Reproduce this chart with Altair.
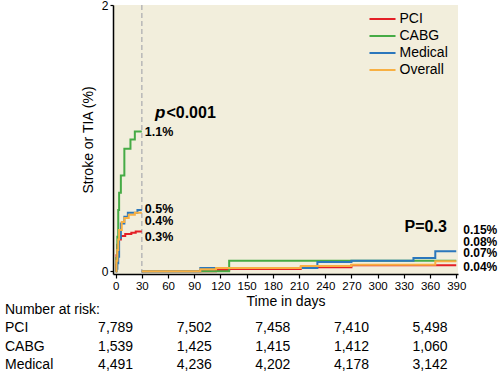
import altair as alt
import pandas as pd

FONT = "Liberation Sans, Arial, sans-serif"

groups = ["PCI", "CABG", "Medical", "Overall"]
colors = ["#e41f26", "#46ab45", "#2b77bc", "#f8b043"]

# ---- 0-30 days (cumulative %, step function) ----
pci_d1 = [0, 0.5, 1, 2, 3, 6, 11, 18, 23, 30]
pci_v1 = [0, 0.05, 0.12, 0.20, 0.24, 0.265, 0.28, 0.29, 0.30, 0.30]
cabg_d1 = [0, 1, 2, 3, 4, 6, 10, 17, 22, 30]
cabg_v1 = [0, 0.10, 0.26, 0.46, 0.59, 0.72, 0.92, 0.99, 1.05, 1.05]
med_d1 = [0, 1, 2, 3, 4, 6, 10, 14, 25, 30]
med_v1 = [0, 0.02, 0.06, 0.11, 0.25, 0.36, 0.41, 0.44, 0.46, 0.46]
all_d1 = [0, 1, 2, 3, 4, 7, 10, 15, 22, 30]
all_v1 = [0, 0.08, 0.16, 0.24, 0.31, 0.37, 0.40, 0.425, 0.44, 0.44]

# ---- 30-390 days landmark (cumulative %, step function) ----
pci_d2 = [30, 115, 130, 212, 270, 390]
pci_v2 = [0, 0.01, 0.018, 0.03, 0.045, 0.045]
cabg_d2 = [30, 130, 390]
cabg_v2 = [0, 0.08, 0.08]
med_d2 = [30, 97, 231, 270, 341, 366, 390]
med_v2 = [0, 0.025, 0.07, 0.08, 0.10, 0.15, 0.15]
all_d2 = [30, 97, 115, 212, 270, 366, 390]
all_v2 = [0, 0.015, 0.025, 0.04, 0.05, 0.075, 0.075]

# ---- annotations ----
early_labels = ["1.1%", "0.5%", "0.4%", "0.3%"]
early_label_at = [1.05, 0.47, 0.375, 0.256]
late_labels = ["0.15%", "0.08%", "0.07%", "0.04%"]
late_label_at = [0.31, 0.223, 0.136, 0.03]

# ---- numbers at risk ----
risk_days = [0, 90, 180, 270, 360]
risk_pci = ["7,789", "7,502", "7,458", "7,410", "5,498"]
risk_cabg = ["1,539", "1,425", "1,415", "1,412", "1,060"]
risk_med = ["4,491", "4,236", "4,202", "4,178", "3,142"]
risk_rows = ["Number at risk:", "PCI", "CABG", "Medical"]

xticks = list(range(0, 391, 30))

series = {
    "PCI": [(pci_d1, pci_v1), (pci_d2, pci_v2)],
    "CABG": [(cabg_d1, cabg_v1), (cabg_d2, cabg_v2)],
    "Medical": [(med_d1, med_v1), (med_d2, med_v2)],
    "Overall": [(all_d1, all_v1), (all_d2, all_v2)],
}
rows = []
for g, parts in series.items():
    for pi, (ds, vs) in enumerate(parts):
        for d, v in zip(ds, vs):
            rows.append({"group": g, "period": pi, "day": d, "value": v})
curves = pd.DataFrame(rows)

xscale = alt.Scale(domain=[-3, 392], nice=False, zero=False)
yscale = alt.Scale(domain=[-0.02, 2], nice=False, zero=False)


def X():
    return alt.X(
        "day:Q",
        scale=xscale,
        axis=alt.Axis(
            values=xticks, title="Time in days", format="d",
            tickSize=4, labelPadding=2, titlePadding=3,
            labelFontSize=11.5, titleFontSize=14, grid=False,
        ),
    )


def Y():
    return alt.Y(
        "value:Q",
        scale=yscale,
        axis=alt.Axis(
            values=[0, 1, 2], title="Stroke or TIA (%)", format="d",
            tickSize=3, labelPadding=2, titlePadding=6,
            labelFontSize=12, titleFontSize=14, grid=False,
        ),
    )


color = alt.Color(
    "group:N",
    scale=alt.Scale(domain=groups, range=colors),
    legend=alt.Legend(
        title=None, orient="none", legendX=262.5, legendY=7,
        symbolType="M-2.17,0H2.17", symbolSize=144, symbolStrokeWidth=2,
        labelFontSize=14, labelFont=FONT, labelOffset=10, padding=0,
        rowPadding=3, symbolOffset=0, labelColor="black",
    ),
)

layers = []

# dashed landmark line at day 30
layers.append(
    alt.Chart(pd.DataFrame({"day": [30]}))
    .mark_rule(color="#b8b8b8", strokeDash=[5, 3], strokeWidth=1.5)
    .encode(x=X())
)

for g in groups:
    layers.append(
        alt.Chart(curves[curves.group == g])
        .mark_line(interpolate="step-after", strokeWidth=2)
        .encode(x=X(), y=Y(), color=color, detail="period:N")
    )

early_df = pd.DataFrame({"day": [30] * 4, "value": early_label_at, "t": early_labels})
layers.append(
    alt.Chart(early_df)
    .mark_text(align="left", baseline="middle", dx=3, font=FONT, fontSize=12.5, fontWeight="bold", color="black")
    .encode(x=X(), y=Y(), text="t:N")
)
late_df = pd.DataFrame({"day": [390] * 4, "value": late_label_at, "t": late_labels})
layers.append(
    alt.Chart(late_df)
    .mark_text(align="left", baseline="middle", dx=7, font=FONT, fontSize=12, fontWeight="bold", color="black")
    .encode(x=X(), y=Y(), text="t:N")
)

p_df = pd.DataFrame({"day": [57], "value": [1.19], "t": ["p"]})
layers.append(
    alt.Chart(p_df)
    .mark_text(align="right", baseline="middle", font=FONT, fontSize=17, fontWeight="bold", fontStyle="italic", color="black")
    .encode(x=X(), y=Y(), text="t:N")
)
p2_df = pd.DataFrame({"day": [57], "value": [1.19], "t": ["<0.001"]})
layers.append(
    alt.Chart(p2_df)
    .mark_text(align="left", baseline="middle", dx=1, font=FONT, fontSize=16, fontWeight="bold", color="black")
    .encode(x=X(), y=Y(), text="t:N")
)
P_df = pd.DataFrame({"day": [355], "value": [0.33], "t": ["P=0.3"]})
layers.append(
    alt.Chart(P_df)
    .mark_text(align="center", baseline="middle", font=FONT, fontSize=16, fontWeight="bold", color="black")
    .encode(x=X(), y=Y(), text="t:N")
)

main = alt.layer(*layers)

# numbers-at-risk table
risk_rows_data = []
for name, vals in [("PCI", risk_pci), ("CABG", risk_cabg), ("Medical", risk_med)]:
    for d, v in zip(risk_days, vals):
        risk_rows_data.append({"row": name, "day": d, "t": v})
risk_df = pd.DataFrame(risk_rows_data)
rowY = alt.Y("row:N", scale=alt.Scale(domain=risk_rows, range=[305, 360], padding=0), axis=None)

nums = (
    alt.Chart(risk_df)
    .mark_text(align="center", baseline="middle", font=FONT, fontSize=14, color="black")
    .encode(x=X(), y=rowY, text="t:N")
)
names = (
    alt.Chart(pd.DataFrame({"row": risk_rows}))
    .mark_text(align="left", baseline="middle", font=FONT, fontSize=14, color="black")
    .encode(x=alt.value(-108), y=rowY, text="row:N")
)
table = alt.layer(nums, names)

chart = (
    alt.layer(main, table)
    .resolve_scale(y="independent")
    .properties(
        width=345, height=269,
        autosize=alt.AutoSizeParams(type="none"),
        padding={"left": 113, "top": 5, "right": 44, "bottom": 101},
        background="white",
    )
    .configure_view(fill="#f2eedc", stroke=None)
    .configure_axis(
        domainColor="black", domainWidth=1.5, tickColor="black", tickWidth=1.2,
        labelColor="black", titleColor="black", labelFont=FONT, titleFont=FONT,
        titleFontWeight="normal",
    )
    .configure_text(font=FONT)
)

chart.save("out.html", embed_options={"renderer": "svg", "actions": False})
